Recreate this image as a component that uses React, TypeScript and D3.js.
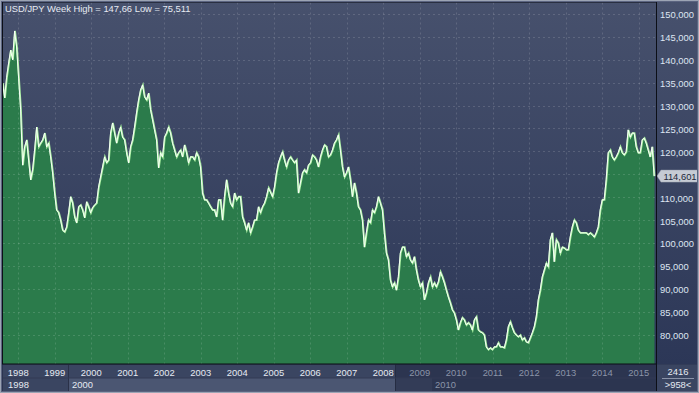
import React from 'react';
import * as d3 from 'd3';

// weekly USD/JPY closes, sampled every 20 days from the picture
const START_DATE = new Date(1997, 7, 1);
const STEP_DAYS = 20;

const closes1997 = [
  134.9, 131.7, 136.2, 139.3, 142.1, 140.0, 146.3, 142.8, 136.0, 129.1,
  117.0, 121.0, 122.5, 118.1, 113.8, 116.0, 120.3, 125.3, 121.0, 121.8,
  122.5, 124.0, 121.0, 121.8, 118.8, 115.3, 110.9, 107.2, 106.6, 105.0,
  102.8, 102.4, 103.5, 106.6, 110.1, 108.7, 105.7, 104.4, 107.9, 108.3,
  107.2, 105.5, 109.0, 107.9, 106.6, 107.7, 108.3, 108.7, 112.2, 114.4,
  116.6, 118.8, 117.5, 118.1,
];
const closes2000 = [
  124.0, 126.2, 124.0, 121.8, 124.0, 125.3, 123.1, 122.5, 119.7, 117.5,
  121.0, 122.5, 125.3, 128.4, 131.2, 133.4, 134.5, 131.9, 131.2, 132.7,
  129.1, 126.9, 124.7, 122.5, 116.4, 119.7, 118.8, 123.1, 124.0, 125.3,
  124.0, 121.8, 120.3, 118.8, 119.7, 120.3, 118.8, 121.4, 119.7, 117.5,
  118.8, 118.8, 118.1, 119.7, 118.8, 116.6, 110.9, 109.4, 109.4, 108.7,
  107.9, 107.2, 107.2, 105.7, 109.4,
];
const closes2003 = [
  109.4, 105.0, 110.1, 113.8, 110.9, 108.7, 107.9, 110.9, 109.4, 110.1,
  110.1, 105.7, 104.4, 102.8, 104.4, 102.2, 103.5, 105.0, 105.0, 107.9,
  106.6, 107.9, 108.7, 110.1, 112.0, 111.1, 110.1, 112.2, 115.3, 117.5,
  118.8, 119.9, 118.1, 116.6, 118.1, 118.8, 118.1, 117.5, 118.1, 110.9,
  113.1, 115.3, 116.0, 115.3, 117.0, 117.5, 119.2, 118.8, 118.1, 116.6,
  118.8, 120.3, 121.4, 121.0, 118.8,
];
const closes2006 = [
  119.2, 120.3, 121.8, 122.5, 123.6, 120.3, 116.6, 114.4, 115.3, 116.6,
  113.8, 110.1, 113.1, 110.9, 107.9, 107.2, 105.0, 99.1, 102.2, 105.0,
  104.4, 107.2, 106.6, 107.9, 110.1, 108.7, 107.2, 102.2, 97.8, 96.3,
  91.9, 90.4, 91.3, 89.7, 92.6, 97.8, 99.1, 99.1, 97.0, 97.8,
  96.3, 95.6, 97.0, 94.1, 91.9, 90.4, 91.3, 87.6, 89.1, 91.3,
  92.6, 90.4, 91.3, 90.4, 91.5,
];
const closes2009 = [
  93.7, 92.6, 91.3, 89.7, 88.2, 86.9, 85.4, 84.7, 83.2, 81.0,
  82.6, 83.7, 83.2, 82.1, 82.6, 82.1, 81.0, 83.2, 83.9, 81.0,
  80.6, 80.4, 79.9, 77.3, 76.7, 77.1, 76.7, 77.3, 77.3, 78.2,
  77.3, 77.3, 77.1, 78.8, 81.7, 82.8, 81.5, 80.4, 79.9, 79.5,
  79.9, 78.8, 79.3, 78.4, 78.2, 79.3, 80.4, 81.7, 83.9, 87.6,
  89.7, 92.6, 94.1, 95.6, 94.8,
];
const closes2012 = [
  100.7, 102.2, 95.9, 100.7, 100.0, 97.8, 99.1, 98.9, 98.5, 98.5,
  101.3, 103.5, 105.0, 104.4, 102.8, 102.2, 102.2, 102.2, 102.2, 101.8,
  102.2, 101.8, 101.3, 102.2, 103.5, 107.2, 109.4, 109.4, 113.8, 119.7,
  120.3, 118.8, 118.1, 118.8, 119.7, 121.0, 119.7, 119.2, 119.9, 124.7,
  123.1, 124.0, 124.0, 121.0, 119.7, 119.7, 122.5, 122.9, 121.8, 120.3,
  118.8, 121.0, 114.601,
];

const yTicks = [80, 85, 90, 95, 100, 105, 110, 115, 120, 125, 130, 135, 140, 145, 150];
const yearTicks = d3.range(1998, 2016);
const TITLE = 'USD/JPY Week High = 147,66 Low = 75,511';
const LAST_LABEL = '114,601';
const TOTAL_BARS = '2416';
const SHOWN_BARS = '>958<';

const W = 699;
const H = 393;
const P = { left: 3, top: 2.5, right: 656, bottom: 364 };
const FONT = 'Liberation Sans, Arial, sans-serif';

export default function App() {
  const values = [
    ...closes1997, ...closes2000, ...closes2003,
    ...closes2006, ...closes2009, ...closes2012,
  ];
  const data = values.map((v, i) => ({ date: d3.timeDay.offset(START_DATE, i * STEP_DAYS), v }));

  const x = d3.scaleTime()
    .domain([START_DATE, data[data.length - 1].date])
    .range([P.left, 654.5]);
  const y = d3.scaleLinear().domain([73.58, 152.51]).range([P.bottom, P.top]);

  const area = d3.area<{ date: Date; v: number }>()
    .x(d => x(d.date)).y0(P.bottom).y1(d => y(d.v));
  const line = d3.line<{ date: Date; v: number }>()
    .x(d => x(d.date)).y(d => y(d.v));

  const lastY = y(values[values.length - 1]);
  const oldYears = 2008;
  // the last-value marker hides the tick label it covers
  const shownTicks = yTicks.filter(t => Math.abs(y(t) - lastY) > 8);

  return (
    <svg width={W} height={H} style={{ position: 'absolute', left: 0, top: 0, display: 'block' }}
      fontFamily={FONT}>
      <defs>
        <linearGradient id="bg" x1="0" y1="0" x2="0" y2="1">
          <stop offset="0" stopColor="#47516d" />
          <stop offset="1" stopColor="#2c3757" />
        </linearGradient>
        <clipPath id="plot">
          <rect x={P.left} y={P.top} width={P.right - P.left} height={P.bottom - P.top} />
        </clipPath>
      </defs>
      <rect x={0} y={0} width={W} height={H} fill="#2b3450" />
      <rect x={0} y={0} width={W} height={P.bottom} fill="url(#bg)" />

      <g clipPath="url(#plot)">
        <path d={area(data) || ''} fill="#2b7b4b" />
        {yTicks.map(t => (
          <line key={'h' + t} x1={P.left} x2={P.right} y1={Math.round(y(t)) + 0.5} y2={Math.round(y(t)) + 0.5}
            stroke="rgba(255,255,255,0.14)" strokeDasharray="2,3" />
        ))}
        {yearTicks.map(yr => {
          const xx = Math.round(x(new Date(yr, 0, 1))) + 0.5;
          return <line key={'v' + yr} x1={xx} x2={xx} y1={P.top} y2={P.bottom}
            stroke="rgba(255,255,255,0.14)" strokeDasharray="2,3" />;
        })}
        <path d={line(data) || ''} fill="none" stroke="#a6ee9e" strokeWidth={1.8} />
        <path d={line(data) || ''} fill="none" stroke="#ffffff" strokeWidth={0.9} transform="translate(-0.4,0)" />
      </g>

      <text x={5} y={12} fontSize={9.4} fill="#e6eaf2">{TITLE}</text>

      {/* right value axis */}
      {shownTicks.map(t => (
        <text key={'yl' + t} x={660} y={y(t) + 4.5} fontSize={9.4} fill="#dfe6f2">{`${t},000`}</text>
      ))}

      {/* last value marker */}
      <path d={`M657,${lastY} L661,${lastY - 6} H698 V${lastY + 6} H661 Z`} fill="#c6cbd4" stroke="#9aa1ae" strokeWidth={0.5} />
      <text x={680} y={lastY + 3.5} fontSize={9.4} fill="#23283a" textAnchor="middle">{LAST_LABEL}</text>

      {/* time axis / navigator */}
      <rect x={P.left} y={364.5} width={392} height={13.5} fill="#3a4561" />
      <rect x={395} y={364.5} width={P.right - 395} height={13.5} fill="#2c3550" />
      <rect x={P.left} y={378} width={65} height={13} fill="#3a4561" />
      <rect x={68} y={378} width={327} height={13} fill="#4b5672" />
      <rect x={395} y={378} width={37} height={13} fill="#333c57" />
      <rect x={432} y={378} width={P.right - 432} height={13} fill="#2c3550" />
      <line x1={68.5} x2={68.5} y1={365} y2={391} stroke="#2a3148" />
      <line x1={395.5} x2={395.5} y1={365} y2={391} stroke="#252c42" />
      <line x1={P.left} x2={P.right} y1={378} y2={378} stroke="#323b55" />
      {yearTicks.map(yr => (
        <text key={'xl' + yr} x={x(new Date(yr, 0, 1))} y={375.5} fontSize={9.4} textAnchor="middle"
          fill={yr <= oldYears ? '#e6eaf2' : '#8b94a8'}>{yr}</text>
      ))}
      <text x={8} y={387.5} fontSize={9.4} fill="#e6eaf2">1998</text>
      <text x={72} y={387.5} fontSize={9.4} fill="#e6eaf2">2000</text>
      <text x={435} y={387.5} fontSize={9.4} fill="#8b94a8">2010</text>

      {/* bar count box */}
      <rect x={657} y={364.5} width={41} height={27} fill="#3a4561" />
      <text x={678} y={374.5} fontSize={9.4} textAnchor="middle" fill="#e6eaf2">{TOTAL_BARS}</text>
      <line x1={662} x2={694} y1={378.5} y2={378.5} stroke="#8a93a8" />
      <text x={678} y={388} fontSize={9.4} textAnchor="middle" fill="#e6eaf2">{SHOWN_BARS}</text>

      {/* frames */}
      <rect x={P.left - 0.5} y={P.top - 0.5} width={P.right - P.left + 1} height={P.bottom - P.top + 0.5}
        fill="none" stroke="#0c0f17" />
      <line x1={P.right + 0.5} x2={P.right + 0.5} y1={P.bottom} y2={H - 1} stroke="#0c0f17" />
      <rect x={0.5} y={0.5} width={W - 1} height={H - 1} fill="none" stroke="#9ca4b4" />
      <rect x={1.5} y={1.5} width={W - 3} height={H - 3} fill="none" stroke="#5b6480" />
    </svg>
  );
}
